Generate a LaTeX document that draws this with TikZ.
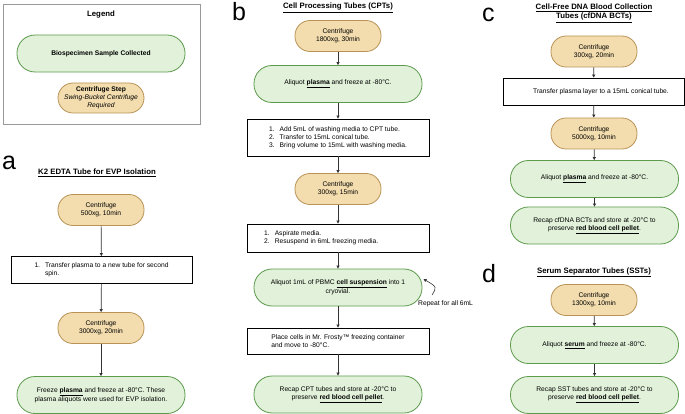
\documentclass[tikz,border=0pt]{standalone}
\usepackage{fontspec}
\setmainfont{Liberation Sans}
\usetikzlibrary{arrows.meta}
\definecolor{grfill}{HTML}{E2F2DA}
\definecolor{grline}{HTML}{5C9A4C}
\definecolor{tnfill}{HTML}{F3DDAE}
\definecolor{tnline}{HTML}{B89256}
\definecolor{arr}{HTML}{333333}
\newcommand{\fs}{\fontsize{6.7}{8}\selectfont}
\newcommand{\ub}[1]{\underline{\textbf{#1}}}
\newcommand{\hangind}{\phantom{1.}\hspace{5pt}}
\tikzset{
 cent/.style={draw=tnline, fill=tnfill, line width=0.8pt, rounded corners=15pt, minimum width=86pt, minimum height=31pt, align=center, font=\fs, inner sep=0pt},
 coll/.style={draw=grline, fill=grfill, line width=0.8pt, rounded corners=18pt, minimum width=168pt, minimum height=37pt, align=center, font=\fs, inner sep=0pt},
 stepbox/.style={draw=black, line width=0.8pt, minimum width=182pt, align=left, font=\fs, inner sep=0pt},
 flow/.style={draw=arr, line width=0.7pt, -{Triangle[length=3pt,width=3pt]}},
 ttl/.style={font=\bfseries\fontsize{7.8}{9.5}\selectfont, align=center},
 lett/.style={font=\fontsize{25}{25}\selectfont, anchor=base west, inner sep=0pt},
 plain/.style={font=\fs, inner sep=0pt}
}
\begin{document}
\begin{tikzpicture}[x=1pt,y=-1pt]
\useasboundingbox (0,0) rectangle (685,414);
% Legend
\node[draw=gray!80, line width=0.7pt, minimum width=197pt, minimum height=120pt, inner sep=0pt] (legend) at (101.5,64) {};
\node[ttl] (legt) at (101,15) {Legend};
\node[coll] (legg) at (101,53.5) {\textbf{Biospecimen Sample Collected}};
\node[cent, minimum height=30pt] (legc) at (101,98) {\textbf{Centrifuge Step}\\\textit{Swing-Bucket Centrifuge}\\\textit{Required}};

% Panel a
\node[lett] (la) at (2,170) {a};
\node[ttl] (ta) at (97,173) {\underline{K2 EDTA Tube for EVP Isolation}};
\node[cent] (a1) at (101,210) {Centrifuge\\500xg, 10min};
\node[stepbox, minimum width=181pt, minimum height=27pt] (a2) at (101.5,270) {1.\hspace{5pt}Transfer plasma to a new tube for second\\\hangind spin.};
\node[cent] (a3) at (101,328) {Centrifuge\\3000xg, 20min};
\node[coll] (a4) at (101,395) {Freeze \ub{plasma} and freeze at -80°C. These\\plasma aliquots were used for EVP isolation.};
\draw[flow] (a1) -- (a2);
\draw[flow] (a2) -- (a3);
\draw[flow] (a3) -- (a4);

% Panel b
\node[lett] (lb) at (232,21) {b};
\node[ttl] (tb) at (338,8) {\underline{Cell Processing Tubes (CPTs)}};
\node[cent] (b1) at (338,36) {Centrifuge\\1800xg, 30min};
\node[coll] (b2) at (338,84) {Aliquot \ub{plasma} and freeze at -80°C.};
\node[stepbox, minimum height=37pt] (b3) at (338,137.5) {1.\hspace{5pt}Add 5mL of washing media to CPT tube.\\2.\hspace{5pt}Transfer to 15mL conical tube.\\3.\hspace{5pt}Bring volume to 15mL with washing media.};
\node[cent] (b4) at (338,189) {Centrifuge\\300xg, 15min};
\node[stepbox, minimum height=28pt] (b5) at (338,238) {1.\hspace{5pt}Aspirate media.\\2.\hspace{5pt}Resuspend in 6mL freezing media.\phantom{xxxxxxxxxx}};
\node[coll] (b6) at (338,287.5) {Aliquot 1mL of PBMC \ub{cell suspension} into 1\\cryovial.};
\node[stepbox, minimum height=26pt] (b7) at (338,341) {Place cells in Mr. Frosty™ freezing container\\and move to -80°C.};
\node[coll] (b8) at (338,394.5) {Recap CPT tubes and store at -20°C to\\preserve \ub{red blood cell pellet}.};
\draw[flow] (b1) -- (b2);
\draw[flow] (b2) -- (b3);
\draw[flow] (b3) -- (b4);
\draw[flow] (b4) -- (b5);
\draw[flow] (b5) -- (b6);
\draw[flow] (b6) -- (b7);
\draw[flow] (b7) -- (b8);
\coordinate (rs) at (432,295);
\coordinate (re) at (423.5,279);
\draw[flow, line width=0.6pt] (rs) .. controls (437,287) .. (re);
\node[plain, anchor=west] (rep) at (418,303.5) {Repeat for all 6mL};

% Panel c
\node[lett] (lc) at (482,22) {c};
\node[ttl] (tc) at (594,13) {\underline{Cell-Free DNA Blood Collection}\\\underline{Tubes (cfDNA BCTs)}};
\node[cent] (c1) at (594,51.5) {Centrifuge\\300xg, 20min};
\node[stepbox, minimum width=181pt, minimum height=27pt] (c2) at (593.5,91.5) {\hspace{15pt}Transfer plasma layer to a 15mL conical tube.};
\node[cent] (c3) at (594,133.5) {Centrifuge\\5000xg, 10min};
\node[coll] (c4) at (594.5,179) {Aliquot \ub{plasma} and freeze at -80°C.};
\node[coll] (c5) at (594.5,225.5) {Recap cfDNA BCTs and store at -20°C to\\preserve \ub{red blood cell pellet}.};
\draw[flow] (c1) -- (c2);
\draw[flow] (c2) -- (c3);
\draw[flow] (c3) -- (c4);
\draw[flow] (c4) -- (c5);

% Panel d
\node[lett] (ld) at (482,282) {d};
\node[ttl] (td) at (594,272) {\underline{Serum Separator Tubes (SSTs)}};
\node[cent] (d1) at (594,300) {Centrifuge\\1300xg, 10min};
\node[coll] (d2) at (594.5,345) {Aliquot \ub{serum} and freeze at -80°C.};
\node[coll] (d3) at (594.5,395) {Recap SST tubes and store at -20°C to\\preserve \ub{red blood cell pellet}.};
\draw[flow] (d1) -- (d2);
\draw[flow] (d2) -- (d3);
\end{tikzpicture}
\end{document}
